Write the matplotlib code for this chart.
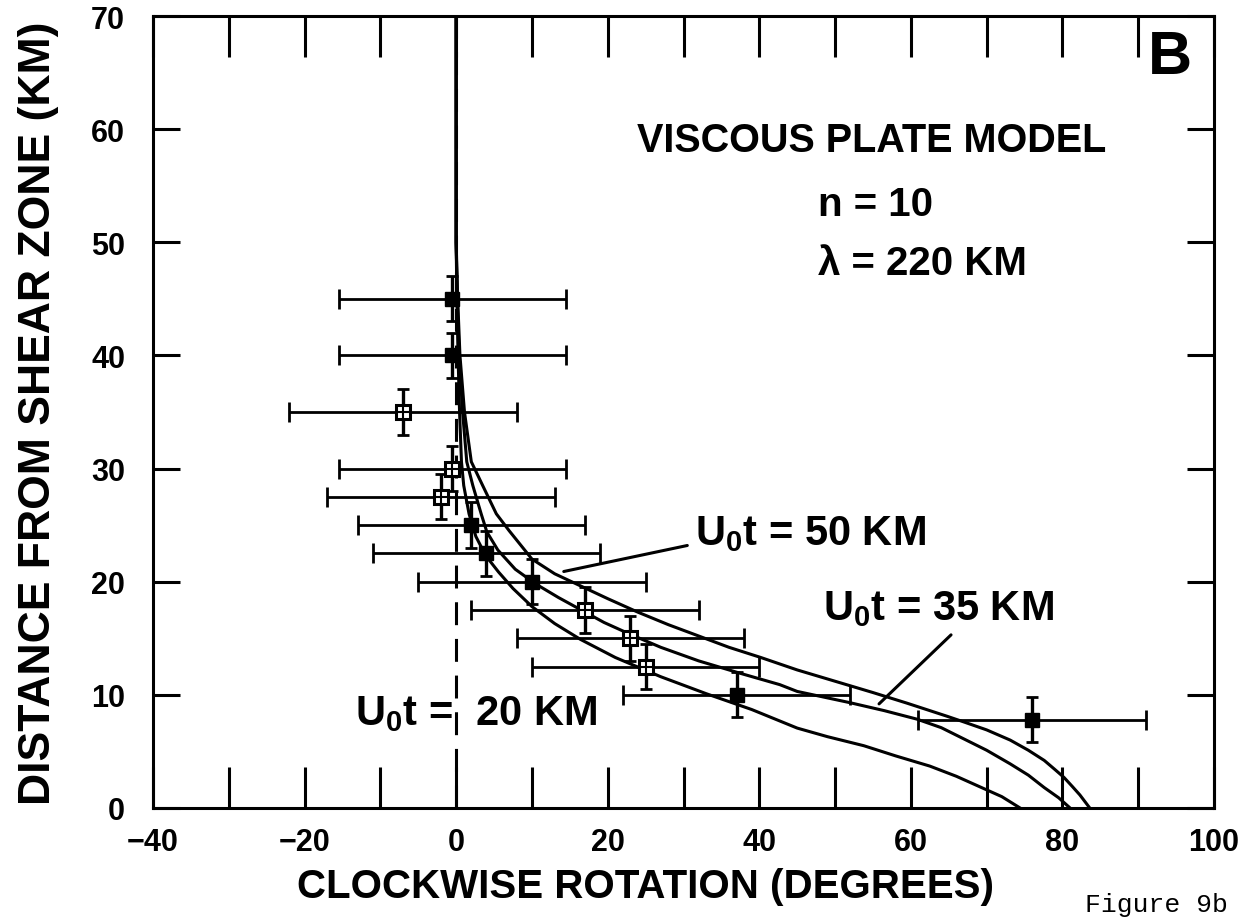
import matplotlib
matplotlib.use('Agg')
import matplotlib.pyplot as plt

plt.rcParams['font.family'] = ['Liberation Sans', 'DejaVu Sans']
plt.rcParams['font.weight'] = 'bold'
plt.rcParams['mathtext.fontset'] = 'custom'
plt.rcParams['mathtext.rm'] = 'Liberation Sans:bold'
plt.rcParams['mathtext.bf'] = 'Liberation Sans:bold'
plt.rcParams['mathtext.it'] = 'Liberation Sans:bold'

# ---- observed data (rotation in degrees, distance in km) ----
obs_rot = [-0.5, -0.5, -7.0, -0.5, -2.0, 2.0, 4.0, 10.0, 17.0, 23.0, 25.0, 37.0, 76.0]
obs_dist = [45.0, 40.0, 35.0, 30.0, 27.5, 25.0, 22.5, 20.0, 17.5, 15.0, 12.5, 10.0, 7.8]
obs_rot_err = [15, 15, 15, 15, 15, 15, 15, 15, 15, 15, 15, 15, 15]
obs_dist_err = [2, 2, 2, 2, 2, 2, 2, 2, 2, 2, 2, 2, 2]
obs_filled = [True, True, False, False, False, True, True, True, False, False, False, True, True]

# ---- model curves (viscous plate model, n = 10, lambda = 220 km) ----
c20_rot = [0.0, 0.0, 0.1, 0.25, 0.45, 0.7, 1.0, 1.7, 2.6, 3.9, 5.6, 7.5, 10.0, 13.0, 16.4,
           21.0, 27.0, 33.0, 39.0, 45.0, 49.0, 53.8, 58.0, 62.5, 66.0, 69.1, 72.0, 74.4]
c20_dist = [70, 50, 45, 40, 35, 30.6, 28.5, 26, 24, 22.3, 20.85, 19.4, 17.8, 16.3, 14.9,
            13.3, 11.6, 10.1, 8.7, 7.06, 6.3, 5.5, 4.6, 3.7, 2.8, 1.87, 1.0, 0]

c35_rot = [0.0, 0.0, 0.15, 0.4, 0.85, 1.4, 2.2, 3.3, 4.05, 5.5, 7.8, 10.5, 13.5, 16.5, 19.5,
           22.8, 27.0, 32.0, 37.5, 42.7, 45.0, 48.5, 52.0, 56.5, 60.8, 64.0, 67.0, 70.0,
           73.1, 75.5, 77.6, 79.5, 81.0]
c35_dist = [70, 50, 45, 40, 35, 30.6, 28.5, 26, 24.4, 22.8, 21.1, 19.8, 18.6, 17.5, 16.4,
            15.4, 14.2, 13.0, 11.9, 10.9, 10.3, 9.8, 9.3, 8.6, 7.85, 7.1, 6.1, 5.1,
            3.9, 2.9, 1.8, 0.9, 0]

c50_rot = [0.0, 0.0, 0.2, 0.5, 1.1, 2.0, 3.5, 5.3, 7.0, 10.0, 13.0, 16.5, 20.0, 24.0, 28.0,
           32.0, 36.0, 40.2, 45.0, 50.0, 55.0, 59.5, 64.8, 67.0, 70.0, 73.1, 75.5, 77.6,
           79.0, 80.2, 81.3, 82.3, 83.6]
c50_dist = [70, 50, 45, 40, 35, 30.6, 28.5, 26, 24.5, 22.0, 20.7, 19.6, 18.5, 17.3, 16.2,
            15.2, 14.2, 13.3, 12.2, 11.2, 10.2, 9.26, 8.1, 7.6, 6.9, 6.0, 5.1, 4.2,
            3.4, 2.7, 1.9, 1.15, 0]

x_ticks = [-40, -30, -20, -10, 0, 10, 20, 30, 40, 50, 60, 70, 80, 90, 100]
x_tick_labels = ['\u221240', '', '\u221220', '', '0', '', '20', '', '40', '', '60', '', '80', '', '100']
y_ticks = [0, 10, 20, 30, 40, 50, 60, 70]
y_tick_labels = ['0', '10', '20', '30', '40', '50', '60', '70']

fig = plt.figure(figsize=(12.49, 9.2), dpi=100)
ax = fig.add_axes([0.1225, 0.1207, 0.8495, 0.8608])
ax.set_xlim(-40, 100)
ax.set_ylim(0, 70)

for s in ax.spines.values():
    s.set_linewidth(2.2)

ax.set_xticks(x_ticks)
ax.set_xticklabels(x_tick_labels, fontsize=22, fontweight='bold')
ax.set_yticks(y_ticks)
ax.set_yticklabels(y_tick_labels, fontsize=22, fontweight='bold')
ax.tick_params(axis='x', direction='in', length=29.5, width=2.2, top=True, bottom=True,
               pad=13.5)
ax.tick_params(axis='y', direction='in', length=19.5, width=2.2, left=True, right=True,
               pad=20)

# dashed zero line
ax.axvline(0, color='black', lw=2.2, ls=(0, (7.5, 4.5)), zorder=1)

# model curves
for xr, yd in [(c20_rot, c20_dist), (c35_rot, c35_dist), (c50_rot, c50_dist)]:
    ax.plot(xr, yd, color='black', lw=2.2, solid_joinstyle='round', zorder=2)

# error bars
ax.errorbar(obs_rot, obs_dist, xerr=obs_rot_err, fmt='none', ecolor='black',
            elinewidth=2.0, capsize=7, capthick=2.0, zorder=3)
ax.errorbar(obs_rot, obs_dist, yerr=obs_dist_err, fmt='none', ecolor='black',
            elinewidth=2.4, capsize=4.5, capthick=2.0, zorder=3)

fx = [r for r, f in zip(obs_rot, obs_filled) if f]
fy = [d for d, f in zip(obs_dist, obs_filled) if f]
gx = [r for r, f in zip(obs_rot, obs_filled) if not f]
gy = [d for d, f in zip(obs_dist, obs_filled) if not f]
ax.plot(fx, fy, 's', ms=9.5, color='black', zorder=4)
ax.plot(gx, gy, 's', ms=9.5, mfc='white', mec='black', mew=2.2, zorder=4)
ax.plot(gx, gy, '+', ms=9.5, color='black', mew=1.5, zorder=5)

# annotations
ax.text(0.958, 0.947, 'B', transform=ax.transAxes, ha='center', va='center',
        fontsize=44, fontweight='bold')
ax.text(0.677, 0.830, 'VISCOUS PLATE MODEL', transform=ax.transAxes, ha='center',
        va='baseline', fontsize=28.5, fontweight='bold')
ax.text(0.627, 0.749, 'n = 10', transform=ax.transAxes, ha='left',
        va='baseline', fontsize=29, fontweight='bold')
ax.text(0.627, 0.674, '\u03bb = 220 KM', transform=ax.transAxes, ha='left',
        va='baseline', fontsize=29, fontweight='bold')

ax.text(0.511, 0.333, r'U$_\mathrm{0}$t = 50 KM', transform=ax.transAxes, ha='left',
        va='baseline', fontsize=30, fontweight='bold')
ax.text(0.631, 0.239, r'U$_\mathrm{0}$t = 35 KM', transform=ax.transAxes, ha='left',
        va='baseline', fontsize=30, fontweight='bold')
ax.text(0.190, 0.106, r'U$_\mathrm{0}$t =  20 KM', transform=ax.transAxes, ha='left',
        va='baseline', fontsize=30, fontweight='bold')

# leader lines
ax.annotate('', xy=(14.2, 20.9), xytext=(30.5, 23.2),
            arrowprops=dict(arrowstyle='-', lw=2.2, color='black', shrinkA=0, shrinkB=0))
ax.annotate('', xy=(55.8, 9.2), xytext=(65.3, 15.3),
            arrowprops=dict(arrowstyle='-', lw=2.2, color='black', shrinkA=0, shrinkB=0))

# axis titles
fig.text(0.517, 0.036, 'CLOCKWISE ROTATION (DEGREES)', ha='center', va='center',
         fontsize=29, fontweight='bold')
fig.text(0.031, 0.551, 'DISTANCE FROM SHEAR ZONE (KM)', ha='center', va='center',
         rotation=90, fontsize=32, fontweight='bold')

fig.text(0.926, 0.009, 'Figure 9b', ha='center', va='baseline',
         fontsize=19, fontweight='normal', family=['Liberation Mono', 'DejaVu Sans Mono'])

fig.savefig('out.png', dpi=100, facecolor='white')
